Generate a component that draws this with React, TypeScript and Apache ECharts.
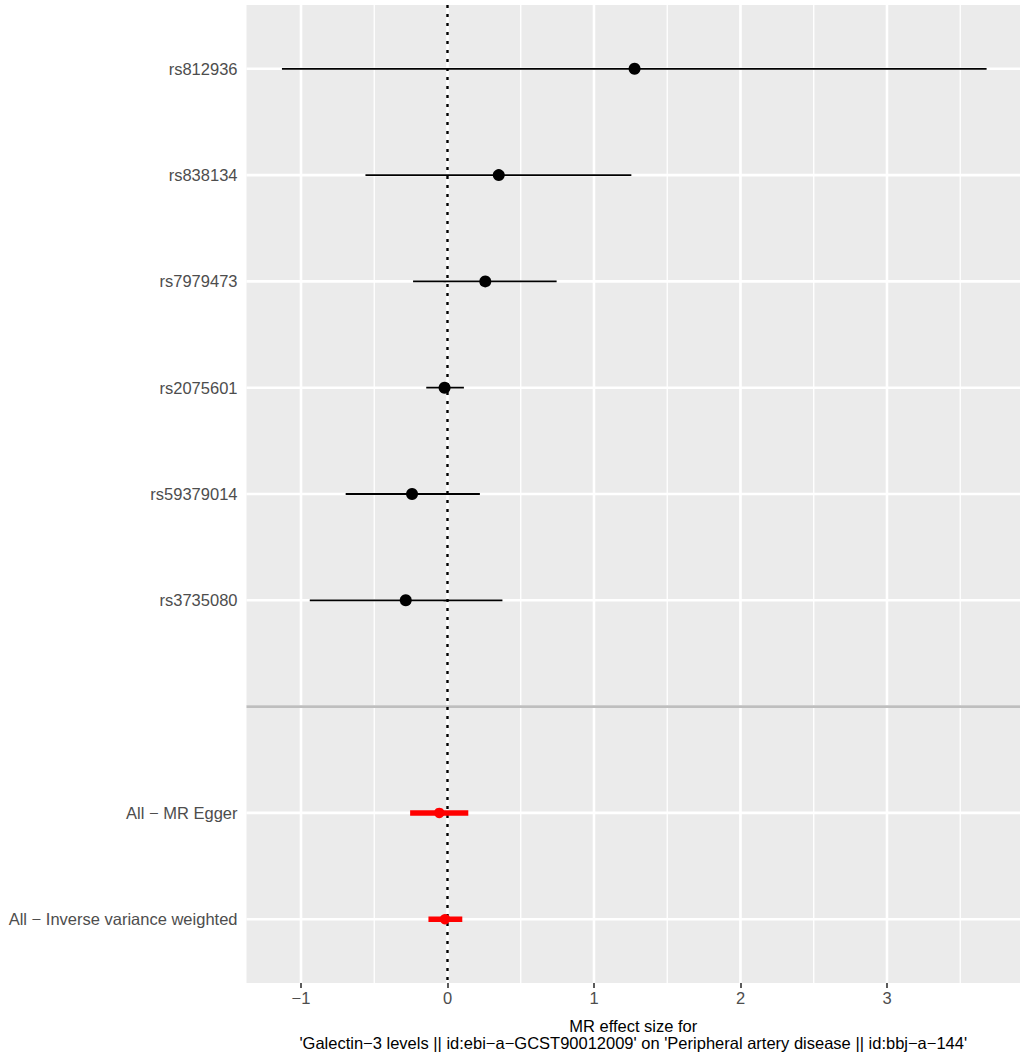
import React, { useEffect, useRef } from "react";
import * as echarts from "echarts";

// ---- data ----
const rowLabels = [
  "rs812936",
  "rs838134",
  "rs7979473",
  "rs2075601",
  "rs59379014",
  "rs3735080",
  "",
  "All − MR Egger",
  "All − Inverse variance weighted",
];
const effect = [1.277, 0.35, 0.258, -0.02, -0.242, -0.285, null, -0.056, -0.017];
const lower = [-1.13, -0.56, -0.235, -0.145, -0.695, -0.94, null, -0.255, -0.13];
const upper = [3.68, 1.255, 0.745, 0.112, 0.221, 0.375, null, 0.142, 0.101];
const isSummary = [false, false, false, false, false, false, false, true, true];
const xTickLabels = [-1, 0, 1, 2, 3];
const xMinorBreaks = [-0.5, 0.5, 1.5, 2.5, 3.5];
const blankRow = 7;
const xTitle =
  "MR effect size for\n'Galectin−3 levels || id:ebi−a−GCST90012009' on 'Peripheral artery disease || id:bbj−a−144'";

const X_MIN = -1.372;
const X_MAX = 3.908;
const Y_MIN = 0.4;
const Y_MAX = 9.6;
const FONT = "'Liberation Sans', Arial, sans-serif";

export default function App() {
  const ref = useRef<HTMLDivElement>(null);

  useEffect(() => {
    if (!ref.current) return;
    const chart = echarts.init(ref.current, undefined, { renderer: "svg" });

    const yPositions = rowLabels.map((_, i) => i + 1);

    // grid-line data: [value, kind] kind 0 major vertical, 1 minor vertical, 2 horizontal
    const gridData: number[][] = [];
    xTickLabels.forEach((v) => gridData.push([v, 0]));
    xMinorBreaks.forEach((v) => gridData.push([v, 1]));
    yPositions.forEach((v) => gridData.push([v, 2]));

    const snpBars: number[][] = [];
    const sumBars: number[][] = [];
    const snpPts: number[][] = [];
    const sumPts: number[][] = [];
    rowLabels.forEach((_, i) => {
      if (effect[i] === null) return;
      const y = i + 1;
      if (isSummary[i]) {
        sumBars.push([lower[i] as number, upper[i] as number, y]);
        sumPts.push([effect[i] as number, y]);
      } else {
        snpBars.push([lower[i] as number, upper[i] as number, y]);
        snpPts.push([effect[i] as number, y]);
      }
    });

    const barRender = (color: string, width: number) => (params: any, api: any) => {
      const p1 = api.coord([api.value(0), api.value(2)]);
      const p2 = api.coord([api.value(1), api.value(2)]);
      return {
        type: "line",
        shape: { x1: p1[0], y1: p1[1], x2: p2[0], y2: p2[1] },
        style: { stroke: color, lineWidth: width, lineCap: "butt" },
      };
    };

    chart.setOption({
      animation: false,
      backgroundColor: "#ffffff",
      textStyle: { fontFamily: FONT },
      grid: {
        left: 246.5,
        right: 6,
        top: 5,
        bottom: 74,
        show: true,
        backgroundColor: "#EBEBEB",
        borderWidth: 0,
        containLabel: false,
        outerBoundsMode: "none",
      },
      xAxis: {
        type: "value",
        min: X_MIN,
        max: X_MAX,
        axisLine: { show: false },
        splitLine: { show: false },
        axisTick: {
          show: true,
          customValues: xTickLabels,
          length: 5,
          lineStyle: { color: "#333333", width: 1.6 },
        },
        axisLabel: {
          customValues: xTickLabels,
          color: "#4D4D4D",
          fontSize: 16.5,
          fontFamily: FONT,
          margin: 6,
          formatter: (v: number) => (v < 0 ? "−" + Math.abs(v) : String(v)),
        },
        name: xTitle,
        nameLocation: "middle",
        nameGap: 34,
        nameTextStyle: {
          color: "#000000",
          fontSize: 16.5,
          fontFamily: FONT,
          lineHeight: 17,
          align: "center",
        },
      },
      yAxis: {
        type: "value",
        inverse: true,
        min: Y_MIN,
        max: Y_MAX,
        axisLine: { show: false },
        splitLine: { show: false },
        axisTick: {
          show: true,
          customValues: yPositions,
          length: 4,
          lineStyle: { color: "#333333", width: 1.6 },
        },
        axisLabel: {
          customValues: yPositions,
          color: "#4D4D4D",
          fontSize: 16.5,
          fontFamily: FONT,
          margin: 9,
          formatter: (v: number) => rowLabels[Math.round(v) - 1] ?? "",
        },
      },
      series: [
        {
          type: "custom",
          name: "grid",
          silent: true,
          z: 1,
          clip: true,
          data: gridData,
          encode: { x: 0 },
          renderItem: (params: any, api: any) => {
            const v = api.value(0);
            const k = api.value(1);
            if (k === 0 || k === 1) {
              const p1 = api.coord([v, Y_MIN]);
              const p2 = api.coord([v, Y_MAX]);
              return {
                type: "line",
                shape: { x1: p1[0], y1: p1[1], x2: p2[0], y2: p2[1] },
                style: { stroke: "#FFFFFF", lineWidth: k === 0 ? 2.6 : 1.3 },
              };
            }
            const p1 = api.coord([X_MIN, v]);
            const p2 = api.coord([X_MAX, v]);
            return {
              type: "line",
              shape: { x1: p1[0], y1: p1[1], x2: p2[0], y2: p2[1] },
              style: { stroke: "#FFFFFF", lineWidth: 2.6 },
            };
          },
        },
        {
          type: "custom",
          name: "separator",
          silent: true,
          z: 2,
          data: [[blankRow]],
          renderItem: (params: any, api: any) => {
            const v = api.value(0);
            const p1 = api.coord([X_MIN, v]);
            const p2 = api.coord([X_MAX, v]);
            return {
              type: "line",
              shape: { x1: p1[0], y1: p1[1], x2: p2[0], y2: p2[1] },
              style: { stroke: "#BEBEBE", lineWidth: 2.6 },
            };
          },
        },
        {
          type: "custom",
          name: "zero",
          silent: true,
          z: 3,
          data: [[0]],
          renderItem: (params: any, api: any) => {
            const v = api.value(0);
            const p1 = api.coord([v, Y_MIN]);
            const p2 = api.coord([v, Y_MAX]);
            return {
              type: "line",
              shape: { x1: p1[0], y1: p1[1], x2: p2[0], y2: p2[1] },
              style: { stroke: "#000000", lineWidth: 2.4, lineDash: [3, 6], lineCap: "butt" },
            };
          },
        },
        {
          type: "custom",
          name: "snpCI",
          silent: true,
          z: 4,
          data: snpBars,
          encode: { x: [0, 1], y: 2 },
          renderItem: barRender("#000000", 1.8),
        },
        {
          type: "custom",
          name: "sumCI",
          silent: true,
          z: 4,
          data: sumBars,
          encode: { x: [0, 1], y: 2 },
          renderItem: barRender("#FF0000", 5.5),
        },
        {
          type: "scatter",
          name: "snp",
          z: 5,
          symbol: "circle",
          symbolSize: 12,
          itemStyle: { color: "#000000", opacity: 1 },
          data: snpPts,
        },
        {
          type: "scatter",
          name: "summary",
          z: 5,
          symbol: "circle",
          symbolSize: 10.5,
          itemStyle: { color: "#FF0000", opacity: 1 },
          data: sumPts,
        },
      ],
    });

    return () => {
      chart.dispose();
    };
  }, []);

  return (
    <div
      ref={ref}
      style={{ position: "absolute", left: 0, top: 0, width: 1026, height: 1057 }}
    />
  );
}
